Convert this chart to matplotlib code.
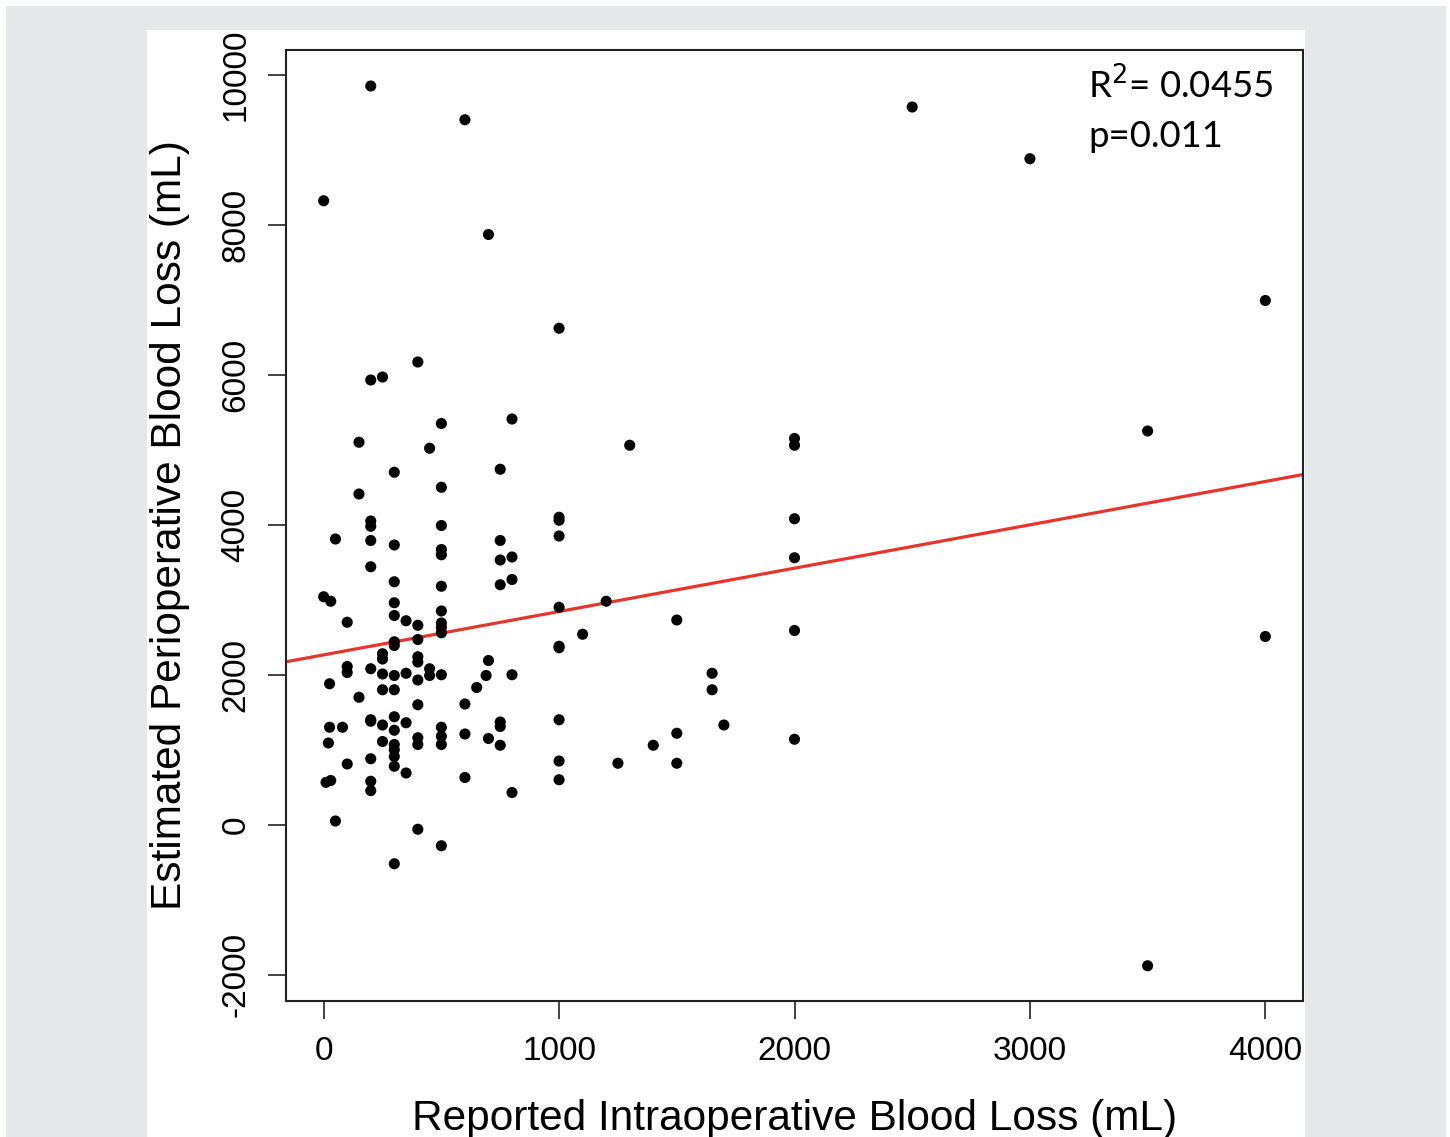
import matplotlib.pyplot as plt
from matplotlib.patches import Rectangle

# reported intraoperative blood loss (x) vs estimated perioperative blood loss (y)
reported = [
    0, 0, 25, 20, 10, 30, 50, 50, 80, 100, 100, 100, 100, 150, 150, 150, 25, 30,
    200, 200, 200, 200, 200, 200, 200, 200, 200, 200, 200, 200,
    250, 250, 250, 250, 250, 250, 250,
    300, 300, 300, 300, 300, 300, 300, 300, 300, 300, 300, 300, 300, 300, 300, 300,
    350, 350, 350, 350,
    400, 400, 400, 400, 400, 400, 400, 400, 400, 400,
    450, 450, 450,
    500, 500, 500, 500, 500, 500, 500, 500, 500, 500, 500, 500, 500, 500, 500,
    600, 600, 600, 600, 650, 690, 700, 700, 700,
    750, 750, 750, 750, 750, 750, 750,
    800, 800, 800, 800, 800,
    1000, 1000, 1000, 1000, 1000, 1000, 1000, 1000, 1000, 1000,
    1100, 1200, 1250, 1300, 1400, 1500, 1500, 1500, 1650, 1650, 1700,
    2000, 2000, 2000, 2000, 2000, 2000, 2500, 3000, 3500, 3500, 4000, 4000,
]
estimated = [
    8320, 3040, 1880, 1090, 565, 2980, 3810, 50, 1300, 2700, 2110, 2030, 810, 5100, 4410, 1700, 1300, 590,
    9850, 5930, 4050, 3980, 3790, 3440, 2080, 1400, 1380, 880, 580, 455,
    5970, 2280, 2210, 2010, 1800, 1330, 1110,
    4700, 3730, 3240, 2960, 2790, 2440, 2390, 1990, 1800, 1440, 1260, 1070, 1000, 910, 780, -520,
    2720, 2020, 1360, 690,
    6170, 2660, 2470, 2240, 2170, 1930, 1600, 1160, 1070, -60,
    5020, 2080, 1990,
    5350, 4500, 3990, 3670, 3600, 3180, 2850, 2690, 2630, 2560, 2000, 1300, 1180, 1070, -280,
    9400, 1610, 1210, 630, 1830, 1990, 7870, 2190, 1150,
    4740, 3790, 3530, 3200, 1370, 1310, 1060,
    5410, 3570, 3270, 2000, 430,
    6620, 4100, 4060, 3850, 2900, 2360, 1400, 850, 600, 2380,
    2540, 2980, 820, 5060, 1060, 2730, 1220, 820, 2020, 1800, 1330,
    5150, 5060, 4080, 3560, 2590, 1140, 9570, 8880, 5250, -1880, 6990, 2510,
]
x_ticks = [0, 1000, 2000, 3000, 4000]
y_ticks = [-2000, 0, 2000, 4000, 6000, 8000, 10000]

# fitted line
fit_intercept = 2265
fit_slope = 0.578

fig = plt.figure(figsize=(14.5, 11.37), dpi=100, facecolor='white')
W, H = 1450, 1137
fig.patches.append(Rectangle((6 / W, 0), 1440 / W, 1131 / H, transform=fig.transFigure,
                             facecolor='#e6e7e9', edgecolor='none', zorder=-2))
fig.patches.append(Rectangle((147 / W, 0), 1158 / W, 1107 / H, transform=fig.transFigure,
                             facecolor='white', edgecolor='none', zorder=-1))

ax = fig.add_axes([286 / W, (H - 1001) / H, 1017 / W, 951 / H])
ax.scatter(reported, estimated, s=64, color='black', edgecolors='none', zorder=3)
ax.axline((0, fit_intercept), slope=fit_slope, color='#e8352b', linewidth=2.3, zorder=2)

ax.set_xlim(-160, 4160)
ax.set_ylim(-2350, 10330)
ax.set_xticks(x_ticks)
ax.set_yticks(y_ticks)
ax.set_xticklabels([str(v) for v in x_ticks], fontfamily='Liberation Sans', fontsize=24)
ax.set_yticklabels([str(v) for v in y_ticks], fontfamily='Liberation Sans', fontsize=24,
                   rotation=90, va='center')
ax.tick_params(length=13, width=1.2, pad=12, color='#222222')
for sp in ax.spines.values():
    sp.set_linewidth(1.5)
    sp.set_color('#222222')

ax.set_xlabel('Reported Intraoperative Blood Loss (mL)', fontfamily='Liberation Sans',
              fontsize=30.5, labelpad=23)
ax.set_ylabel('Estimated Perioperative Blood Loss (mL)', fontfamily='Liberation Sans',
              fontsize=30.5, labelpad=22)

ax.text(0.789, 0.963, 'R$^2$= 0.0455', transform=ax.transAxes, fontfamily='Lato',
        fontsize=26.3, va='center', ha='left')
ax.text(0.789, 0.909, 'p=0.011', transform=ax.transAxes, fontfamily='Lato',
        fontsize=26.3, va='center', ha='left')

fig.savefig('out.png', dpi=100, facecolor=fig.get_facecolor())
